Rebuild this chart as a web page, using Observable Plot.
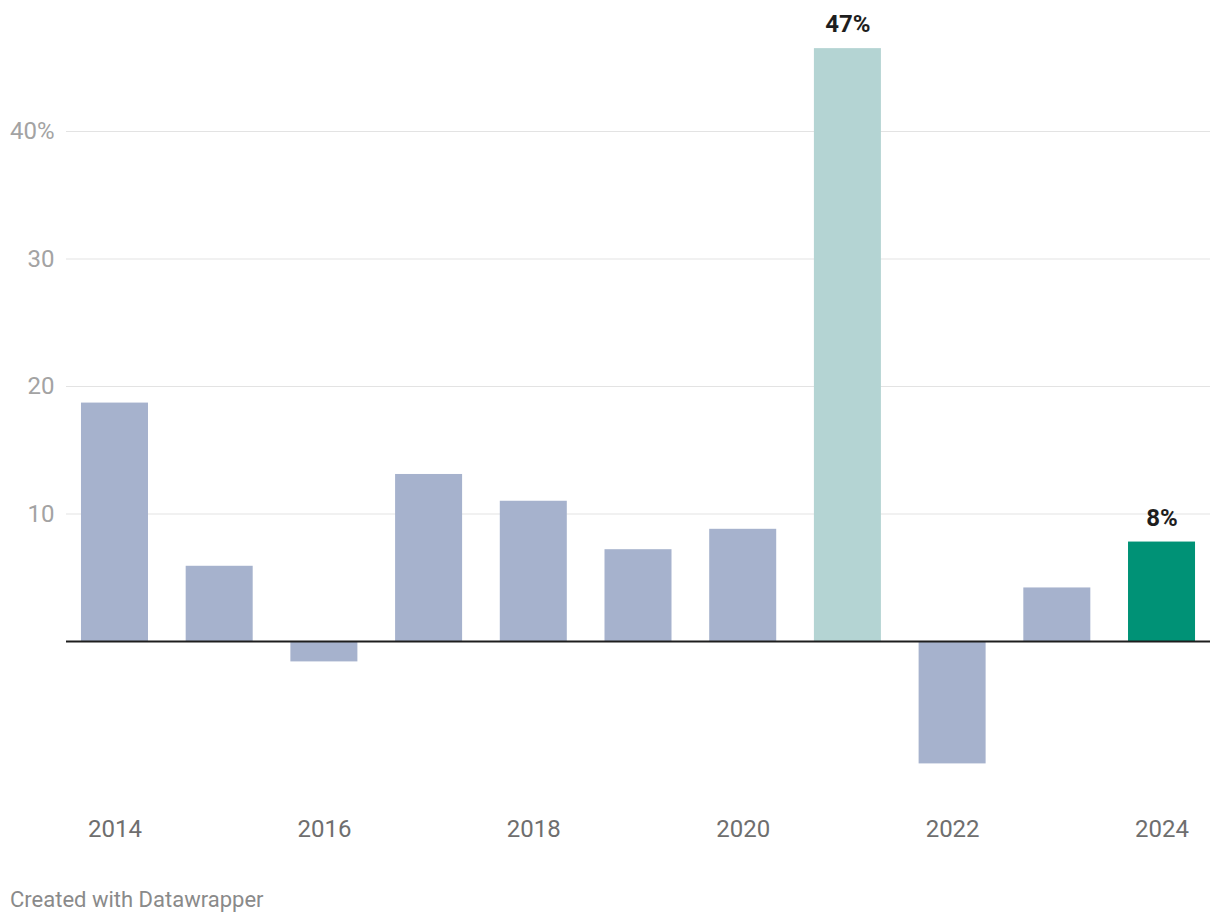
<!DOCTYPE html>
<html>
<head>
<meta charset="utf-8">
<script src="https://cdn.jsdelivr.net/npm/d3@7"></script>
<script src="https://cdn.jsdelivr.net/npm/@observablehq/plot@0.6"></script>
<style>
  html, body { margin: 0; padding: 0; background: #fff; }
  #chart svg { display: block; }
  #caption { font-family: Roboto, sans-serif; font-size: 22px; color: #8a8a8a; margin: 27px 0 0 10px; line-height: 26px; }
</style>
</head>
<body>
<div id="chart"></div>
<div id="caption">Created with Datawrapper</div>
<script>
const years = [2014, 2015, 2016, 2017, 2018, 2019, 2020, 2021, 2022, 2023, 2024];
const values = [18.7, 5.9, -1.6, 13.1, 11.0, 7.2, 8.8, 46.5, -9.6, 4.2, 7.8];
const groups = ["base", "base", "base", "base", "base", "base", "base", "peak", "base", "base", "latest"];
const valueLabels = ["", "", "", "", "", "", "", "47%", "", "", "8%"];
const xTicks = [2014, 2016, 2018, 2020, 2022, 2024];
const yTicks = [10, 20, 30, 40];

const data = years.map((year, i) => ({year, value: values[i], group: groups[i], label: valueLabels[i]}));

const chart = Plot.plot({
  width: 1220,
  height: 860,
  marginLeft: 66,
  marginRight: 10,
  marginTop: 29,
  marginBottom: 66,
  style: {fontFamily: "Roboto, sans-serif", background: "#fff"},
  x: {type: "band", domain: years, paddingInner: 0.36, paddingOuter: 0.143, round: false},
  y: {domain: [-12, 48]},
  color: {domain: ["base", "peak", "latest"], range: ["#a6b2cd", "#b4d4d3", "#009276"]},
  marks: [
    Plot.gridY(yTicks, {stroke: "#e3e3e3", strokeOpacity: 1, strokeWidth: 1}),
    Plot.axisY(yTicks, {tickSize: 0, tickPadding: 12, fontSize: 24, fill: "#a3a3a3",
      tickFormat: d => d === 40 ? "40%" : String(d), label: null}),
    Plot.barY(data, {x: "year", y: "value", fill: "group"}),
    Plot.ruleY([0], {stroke: "#1e1e1e", strokeWidth: 2}),
    Plot.axisX(xTicks, {tickSize: 0, tickPadding: 25, fontSize: 24, fill: "#6e6e6e",
      tickFormat: d => String(d), label: null}),
    Plot.text(data.filter(d => d.label), {x: "year", y: "value", text: "label", dy: -24,
      fontSize: 24, fontWeight: "bold", fill: "#1e1e1e"})
  ]
});
document.getElementById("chart").appendChild(chart);
</script>
</body>
</html>
